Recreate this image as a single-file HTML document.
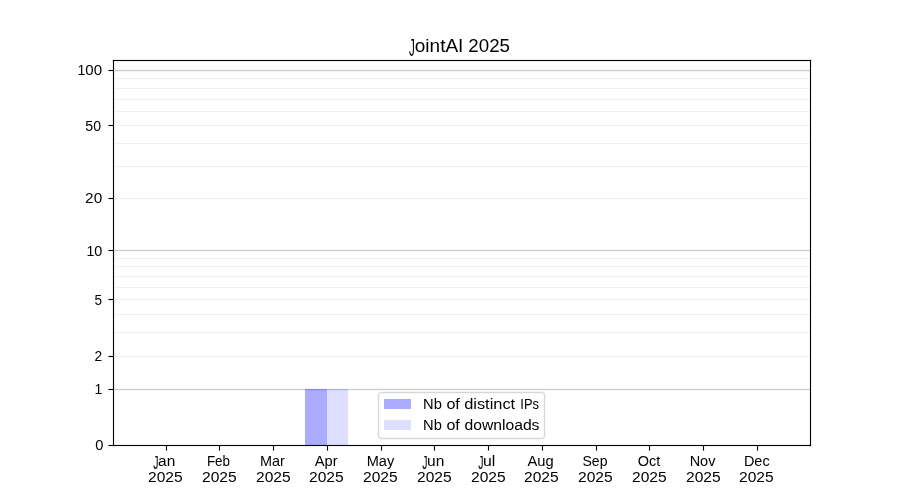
<!DOCTYPE html>
<html><head><meta charset="utf-8"><title>JointAI 2025</title>
<style>
html,body{margin:0;padding:0;background:#fff}
body{width:900px;height:500px;overflow:hidden}
svg{display:block;will-change:transform}
text{font-family:"Liberation Sans",sans-serif;fill:#000}
</style></head><body>
<svg width="900" height="500" viewBox="0 0 900 500">
<rect width="900" height="500" fill="#fff"/>
<g shape-rendering="crispEdges">
<rect x="114" y="78" width="696" height="1" fill="#f0f0f0"/>
<rect x="114" y="88" width="696" height="1" fill="#f0f0f0"/>
<rect x="114" y="99" width="696" height="1" fill="#f0f0f0"/>
<rect x="114" y="111" width="696" height="1" fill="#f0f0f0"/>
<rect x="114" y="125" width="696" height="1" fill="#f0f0f0"/>
<rect x="114" y="143" width="696" height="1" fill="#f0f0f0"/>
<rect x="114" y="166" width="696" height="1" fill="#f0f0f0"/>
<rect x="114" y="198" width="696" height="1" fill="#f0f0f0"/>
<rect x="114" y="258" width="696" height="1" fill="#f0f0f0"/>
<rect x="114" y="266" width="696" height="1" fill="#f0f0f0"/>
<rect x="114" y="276" width="696" height="1" fill="#f0f0f0"/>
<rect x="114" y="287" width="696" height="1" fill="#f0f0f0"/>
<rect x="114" y="299" width="696" height="1" fill="#f0f0f0"/>
<rect x="114" y="314" width="696" height="1" fill="#f0f0f0"/>
<rect x="114" y="332" width="696" height="1" fill="#f0f0f0"/>
<rect x="114" y="356" width="696" height="1" fill="#f0f0f0"/>
<rect x="114" y="69" width="696" height="3" fill="#f7f7f7"/>
<rect x="114" y="70" width="696" height="1" fill="#cccccc"/>
<rect x="114" y="249" width="696" height="3" fill="#f7f7f7"/>
<rect x="114" y="250" width="696" height="1" fill="#cccccc"/>
<rect x="114" y="388" width="696" height="3" fill="#f7f7f7"/>
<rect x="114" y="389" width="696" height="1" fill="#cccccc"/>
</g>
<g shape-rendering="crispEdges">
<rect x="305" y="391" width="22" height="54" fill="#ababff"/>
<rect x="327" y="391" width="21" height="54" fill="#dedeff"/>
<rect x="305" y="389" width="22" height="1" fill="#8888dc"/><rect x="305" y="390" width="22" height="1" fill="#a4a4f8"/>
<rect x="327" y="389" width="21" height="1" fill="#b1b1d2"/><rect x="327" y="390" width="21" height="1" fill="#d5d5f6"/>
</g>
<rect x="378.5" y="392.5" width="166" height="46" rx="2.8" ry="2.8" fill="#fff" stroke="#f7f7f7" stroke-width="3"/>
<rect x="378.5" y="392.5" width="166" height="46" rx="2.8" ry="2.8" fill="none" stroke="#d6d6d6" stroke-width="1"/>
<g shape-rendering="crispEdges"><rect x="384" y="399" width="27" height="10" fill="#ababff"/><rect x="384" y="420" width="27" height="10" fill="#dedeff"/></g>
<g shape-rendering="crispEdges" fill="#000">
<g fill-opacity="0.055"><rect x="112" y="59" width="3" height="388"/><rect x="809" y="59" width="3" height="388"/><rect x="112" y="59" width="700" height="3"/><rect x="112" y="444" width="700" height="3"/><rect x="108" y="444" width="5" height="3"/><rect x="108" y="388" width="5" height="3"/><rect x="108" y="355" width="5" height="3"/><rect x="108" y="298" width="5" height="3"/><rect x="108" y="249" width="5" height="3"/><rect x="108" y="197" width="5" height="3"/><rect x="108" y="124" width="5" height="3"/><rect x="108" y="69" width="5" height="3"/><rect x="165" y="446" width="3" height="5"/><rect x="218" y="446" width="3" height="5"/><rect x="272" y="446" width="3" height="5"/><rect x="326" y="446" width="3" height="5"/><rect x="380" y="446" width="3" height="5"/><rect x="433" y="446" width="3" height="5"/><rect x="487" y="446" width="3" height="5"/><rect x="541" y="446" width="3" height="5"/><rect x="595" y="446" width="3" height="5"/><rect x="648" y="446" width="3" height="5"/><rect x="702" y="446" width="3" height="5"/><rect x="756" y="446" width="3" height="5"/></g>
<g fill-opacity="0.5"><rect x="108" y="445" width="1" height="1"/><rect x="108" y="389" width="1" height="1"/><rect x="108" y="356" width="1" height="1"/><rect x="108" y="299" width="1" height="1"/><rect x="108" y="250" width="1" height="1"/><rect x="108" y="198" width="1" height="1"/><rect x="108" y="125" width="1" height="1"/><rect x="108" y="70" width="1" height="1"/><rect x="166" y="450" width="1" height="1"/><rect x="219" y="450" width="1" height="1"/><rect x="273" y="450" width="1" height="1"/><rect x="327" y="450" width="1" height="1"/><rect x="381" y="450" width="1" height="1"/><rect x="434" y="450" width="1" height="1"/><rect x="488" y="450" width="1" height="1"/><rect x="542" y="450" width="1" height="1"/><rect x="596" y="450" width="1" height="1"/><rect x="649" y="450" width="1" height="1"/><rect x="703" y="450" width="1" height="1"/><rect x="757" y="450" width="1" height="1"/></g>
<rect x="113" y="60" width="1" height="386"/><rect x="810" y="60" width="1" height="386"/><rect x="113" y="60" width="698" height="1"/><rect x="113" y="445" width="698" height="1"/><rect x="109" y="445" width="4" height="1"/><rect x="109" y="389" width="4" height="1"/><rect x="109" y="356" width="4" height="1"/><rect x="109" y="299" width="4" height="1"/><rect x="109" y="250" width="4" height="1"/><rect x="109" y="198" width="4" height="1"/><rect x="109" y="125" width="4" height="1"/><rect x="109" y="70" width="4" height="1"/><rect x="166" y="446" width="1" height="4"/><rect x="219" y="446" width="1" height="4"/><rect x="273" y="446" width="1" height="4"/><rect x="327" y="446" width="1" height="4"/><rect x="381" y="446" width="1" height="4"/><rect x="434" y="446" width="1" height="4"/><rect x="488" y="446" width="1" height="4"/><rect x="542" y="446" width="1" height="4"/><rect x="596" y="446" width="1" height="4"/><rect x="649" y="446" width="1" height="4"/><rect x="703" y="446" width="1" height="4"/><rect x="757" y="446" width="1" height="4"/>
</g>
<!-- y tick labels --><g>
<text transform="translate(95.276 449.500) scale(1.0574 1.0800)" font-size="13.89">0</text>
<text transform="translate(94.377 394.000) scale(1.0117 1.0000)" font-size="13.89" font-family="Liberation Mono">1</text>
<text transform="translate(94.490 360.500) scale(0.9962 1.0400)" font-size="13.89">2</text>
<text transform="translate(94.495 304.500) scale(0.9783 1.0600)" font-size="13.89">5</text>
<text transform="translate(86.400 256.000) scale(1.0122 1.0000)" font-size="13.89" font-family="Liberation Mono">1</text>
<text transform="translate(94.196 255.500) scale(1.0366 1.0400)" font-size="13.89">0</text>
<text transform="translate(85.094 202.500) scale(1.1064 1.0400)" font-size="13.89">20</text>
<text transform="translate(85.364 130.500) scale(1.0138 1.0200)" font-size="13.89">50</text>
<text transform="translate(77.400 75.000) scale(1.0122 1.0000)" font-size="13.89" font-family="Liberation Mono">1</text>
<text transform="translate(85.335 75.000) scale(1.0883 1.0000)" font-size="13.89">00</text>
</g>
<!-- x tick labels --><g>
<text transform="translate(153.250 469.000) scale(0.7500 1.3000)" font-size="13.89">J</text>
<text transform="translate(158.086 465.500) scale(1.1127 1.0800)" font-size="13.89">an</text>
<text transform="translate(148.053 481.500) scale(1.1214 1.0400)" font-size="13.89">2025</text>
<text transform="translate(206.880 465.500) scale(0.9666 1.0400)" font-size="13.89">Feb</text>
<text transform="translate(202.053 481.500) scale(1.1214 1.0400)" font-size="13.89">2025</text>
<text transform="translate(259.964 465.500) scale(1.0407 1.0200)" font-size="13.89">Mar</text>
<text transform="translate(256.053 481.500) scale(1.1214 1.0400)" font-size="13.89">2025</text>
<text transform="translate(314.746 465.500) scale(1.0555 1.0600)" font-size="13.89">Apr</text>
<text transform="translate(309.053 481.500) scale(1.1214 1.0400)" font-size="13.89">2025</text>
<text transform="translate(366.678 466.000) scale(1.0488 1.0000)" font-size="13.89">May</text>
<text transform="translate(363.053 481.500) scale(1.1214 1.0400)" font-size="13.89">2025</text>
<text transform="translate(422.250 469.000) scale(0.7500 1.3000)" font-size="13.89">J</text>
<text transform="translate(427.092 466.000) scale(1.1175 1.0000)" font-size="13.89">un</text>
<text transform="translate(417.053 481.500) scale(1.1214 1.0400)" font-size="13.89">2025</text>
<text transform="translate(478.250 469.000) scale(0.7500 1.3000)" font-size="13.89">J</text>
<text transform="translate(482.924 466.000) scale(1.1365 1.0000)" font-size="13.89">ul</text>
<text transform="translate(471.053 481.500) scale(1.1214 1.0400)" font-size="13.89">2025</text>
<text transform="translate(527.453 465.500) scale(1.0594 1.0600)" font-size="13.89">Aug</text>
<text transform="translate(524.053 481.500) scale(1.1214 1.0400)" font-size="13.89">2025</text>
<text transform="translate(582.472 465.500) scale(1.0117 1.0600)" font-size="13.89">Sep</text>
<text transform="translate(578.053 481.500) scale(1.1214 1.0400)" font-size="13.89">2025</text>
<text transform="translate(637.646 465.500) scale(1.0432 1.0200)" font-size="13.89">Oct</text>
<text transform="translate(632.053 481.500) scale(1.1214 1.0400)" font-size="13.89">2025</text>
<text transform="translate(689.640 466.000) scale(1.0454 1.0000)" font-size="13.89">Nov</text>
<text transform="translate(686.053 481.500) scale(1.1214 1.0400)" font-size="13.89">2025</text>
<text transform="translate(743.935 465.500) scale(1.0405 1.0200)" font-size="13.89">Dec</text>
<text transform="translate(739.053 481.500) scale(1.1214 1.0400)" font-size="13.89">2025</text>
</g>
<!-- legend labels --><g>
<text transform="translate(423.119 408.500) scale(1.0599 1.0200)" font-size="13.89">Nb</text>
<text transform="translate(446.418 408.500) scale(1.1588 1.0800)" font-size="13.89">of</text>
<text transform="translate(464.160 408.500) scale(1.1810 1.0800)" font-size="13.89">distinct</text>
<text transform="translate(520.301 409.000) scale(0.9300 1.0000)" font-size="13.89">IPs</text>
<text transform="translate(423.119 429.500) scale(1.0599 1.0200)" font-size="13.89">Nb</text>
<text transform="translate(446.418 429.500) scale(1.1588 1.0800)" font-size="13.89">of</text>
<text transform="translate(464.426 429.500) scale(1.1308 1.0800)" font-size="13.89">downloads</text>
</g>
<!-- title --><g>
<text transform="translate(409.000 56.000) scale(0.7000 1.4000)" font-size="16.67">J</text>
<text transform="translate(414.743 51.500) scale(1.1417 1.1067)" font-size="16.67">ointAI</text>
<text transform="translate(468.348 52.000) scale(1.1225 1.0850)" font-size="16.67">2025</text>
</g>
</svg>
</body></html>
